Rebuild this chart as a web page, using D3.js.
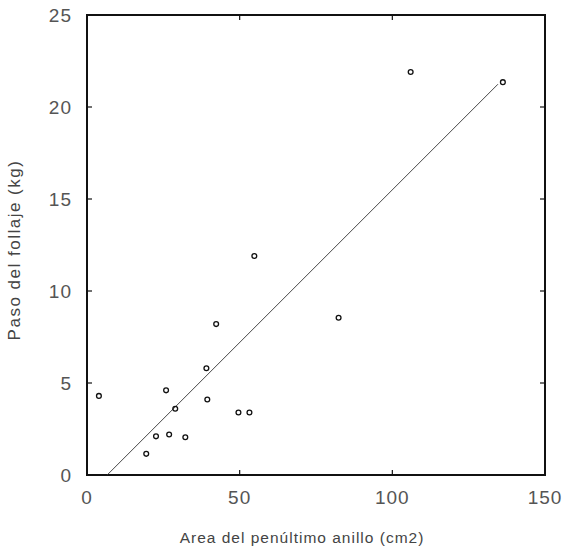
<!DOCTYPE html>
<html lang="es">
<head>
    <meta charset="UTF-8">
    <title>Peso del follaje vs area</title>
    <script src="https://cdn.jsdelivr.net/npm/d3@7"></script>
    <style>
        body { margin: 0; background: #fff; }
        .frame { fill: none; stroke: #111; stroke-width: 2px; }
        .tick-mark { stroke: #111; stroke-width: 1.2px; }
        .tick-label { font-family: "Liberation Sans", Arial, sans-serif; font-size: 19px; fill: #555; letter-spacing: 1px; }
        .axis-title { font-family: "Liberation Sans", Arial, sans-serif; fill: #444; }
        .fit { stroke: #333; stroke-width: 0.9px; fill: none; }
        .dot { fill: none; stroke: #111; stroke-width: 1.3px; }
    </style>
</head>
<body>
<div id="chart"></div>
<script>
    // values
    const areaCm2 = [3.9, 25.9, 28.9, 39.1, 39.4, 42.3, 49.6, 53.2, 22.6, 26.9, 32.2, 19.4, 54.8, 82.4, 106, 136.2];
    const pesoKg = [4.3, 4.6, 3.6, 5.8, 4.1, 8.2, 3.4, 3.4, 2.1, 2.2, 2.05, 1.15, 11.9, 8.55, 21.9, 21.35];

    // fitted line end points
    const fitX = [6.6, 134.6];
    const fitY = [0, 21.24];

    const xTicks = [0, 50, 100, 150];
    const yTicks = [0, 5, 10, 15, 20, 25];

    const W = 566, H = 550;
    const margin = { top: 15, right: 21, bottom: 75, left: 87 };

    const svg = d3.select('#chart').append('svg')
        .attr('width', W)
        .attr('height', H);

    const x = d3.scaleLinear().domain([0, 150]).range([margin.left, W - margin.right]);
    const y = d3.scaleLinear().domain([0, 25]).range([H - margin.bottom, margin.top]);

    // inward ticks on all four sides
    const tl = 5;
    const ticks = svg.append('g');
    xTicks.slice(1, -1).forEach(v => {
        ticks.append('line').attr('class', 'tick-mark')
            .attr('x1', x(v)).attr('x2', x(v))
            .attr('y1', y(0)).attr('y2', y(0) - tl);
        ticks.append('line').attr('class', 'tick-mark')
            .attr('x1', x(v)).attr('x2', x(v))
            .attr('y1', y(25)).attr('y2', y(25) + tl);
    });
    yTicks.slice(1, -1).forEach(v => {
        ticks.append('line').attr('class', 'tick-mark')
            .attr('x1', x(0)).attr('x2', x(0) + tl)
            .attr('y1', y(v)).attr('y2', y(v));
        ticks.append('line').attr('class', 'tick-mark')
            .attr('x1', x(150)).attr('x2', x(150) - tl)
            .attr('y1', y(v)).attr('y2', y(v));
    });

    svg.append('rect').attr('class', 'frame')
        .attr('x', x(0)).attr('y', y(25))
        .attr('width', x(150) - x(0))
        .attr('height', y(0) - y(25));

    // tick labels
    svg.selectAll('.xl').data(xTicks).enter().append('text')
        .attr('class', 'tick-label')
        .attr('x', d => x(d))
        .attr('y', y(0) + 29)
        .attr('text-anchor', 'middle')
        .text(d => d);

    svg.selectAll('.yl').data(yTicks).enter().append('text')
        .attr('class', 'tick-label')
        .attr('x', x(0) - 15)
        .attr('y', d => y(d) + 7)
        .attr('text-anchor', 'end')
        .text(d => d);

    // regression line
    svg.append('path').attr('class', 'fit')
        .attr('d', d3.line()(fitX.map((v, i) => [x(v), y(fitY[i])])));

    svg.selectAll('.dot').data(areaCm2).enter().append('circle')
        .attr('class', 'dot')
        .attr('cx', d => x(d))
        .attr('cy', (d, i) => y(pesoKg[i]))
        .attr('r', 2.4);

    // axis titles
    svg.append('text').attr('class', 'axis-title')
        .attr('x', 302).attr('y', 543)
        .attr('text-anchor', 'middle')
        .style('font-size', '15.5px')
        .style('letter-spacing', '1px')
        .text('Area del penúltimo anillo (cm2)');

    svg.append('text').attr('class', 'axis-title')
        .attr('transform', 'translate(20,250) rotate(-90)')
        .attr('text-anchor', 'middle')
        .style('font-size', '17px')
        .style('letter-spacing', '1.5px')
        .text('Paso del follaje (kg)');
</script>
</body>
</html>
